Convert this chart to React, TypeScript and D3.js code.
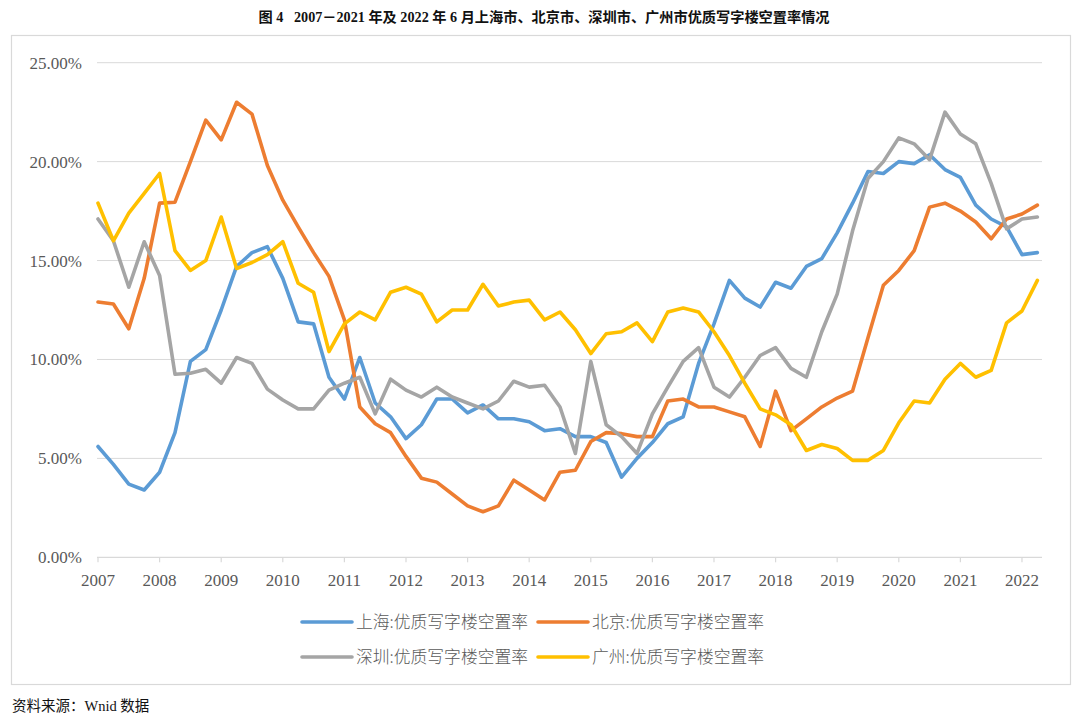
import { useEffect, useRef } from "react";
import * as d3 from "d3";

// quarterly, 2007Q1 .. 2022Q2 (62 points)
const years = d3.range(2007, 2023);

const shanghai = [
	5.6, 4.7, 3.7, 3.4, 4.3, 6.3, 9.9, 10.5, 12.5, 14.7, 15.4, 15.7, 14.1, 11.9, 11.8, 9.1,
	8.0, 10.1, 7.8, 7.1, 6.0, 6.7, 8.0, 8.0, 7.3, 7.7, 7.0, 7.0, 6.85, 6.4, 6.5, 6.1,
	6.1, 5.8, 4.05, 5.0, 5.8, 6.75, 7.1, 9.8, 11.8, 14.0, 13.1, 12.65, 13.9, 13.6, 14.7, 15.1,
	16.4, 17.9, 19.5, 19.4, 20.0, 19.9, 20.35, 19.6, 19.2, 17.8, 17.1, 16.7, 15.3, 15.4,
];

const beijing = [
	12.9, 12.8, 11.55, 14.1, 17.9, 17.95, 20.0, 22.1, 21.1, 23.0, 22.4, 19.8, 18.05, 16.7, 15.4, 14.2,
	12.0, 7.6, 6.75, 6.3, 5.1, 4.0, 3.8, 3.2, 2.6, 2.3, 2.6, 3.9, 3.4, 2.9, 4.3, 4.4,
	5.85, 6.3, 6.25, 6.1, 6.1, 7.9, 8.0, 7.6, 7.6, 7.35, 7.1, 5.6, 8.4, 6.4, 7.0, 7.6,
	8.05, 8.4, 11.1, 13.75, 14.5, 15.5, 17.7, 17.9, 17.5, 16.95, 16.1, 17.1, 17.35, 17.8,
];

const shenzhen = [
	17.1, 16.0, 13.65, 15.95, 14.25, 9.25, 9.3, 9.5, 8.8, 10.1, 9.8, 8.5, 7.95, 7.5, 7.5, 8.45,
	8.8, 9.1, 7.25, 9.0, 8.45, 8.1, 8.6, 8.1, 7.8, 7.5, 7.9, 8.9, 8.6, 8.7, 7.6, 5.25,
	9.9, 6.7, 6.1, 5.25, 7.25, 8.6, 9.9, 10.6, 8.6, 8.1, 9.1, 10.2, 10.6, 9.55, 9.1, 11.4,
	13.3, 16.5, 19.15, 20.0, 21.2, 20.9, 20.1, 22.5, 21.4, 20.9, 18.9, 16.6, 17.1, 17.2,
];

const guangzhou = [
	17.9, 16.0, 17.4, 18.4, 19.4, 15.5, 14.5, 15.0, 17.2, 14.6, 14.9, 15.3, 15.95, 13.85, 13.4, 10.4,
	11.8, 12.4, 12.0, 13.4, 13.65, 13.3, 11.9, 12.5, 12.5, 13.8, 12.7, 12.9, 13.0, 12.0, 12.4, 11.5,
	10.3, 11.3, 11.4, 11.85, 10.9, 12.4, 12.6, 12.4, 11.4, 10.2, 8.8, 7.5, 7.2, 6.7, 5.4, 5.7,
	5.5, 4.9, 4.9, 5.4, 6.8, 7.9, 7.8, 9.0, 9.8, 9.1, 9.45, 11.85, 12.45, 14.0,
];

const series = [
	{ name: "上海:优质写字楼空置率", color: "#5B9BD5", values: shanghai },
	{ name: "北京:优质写字楼空置率", color: "#ED7D31", values: beijing },
	{ name: "深圳:优质写字楼空置率", color: "#A5A5A5", values: shenzhen },
	{ name: "广州:优质写字楼空置率", color: "#FFC000", values: guangzhou },
];

const yTicks = [0, 5, 10, 15, 20, 25];

const SERIF = "'Liberation Serif', 'Times New Roman', 'Noto Sans CJK SC', serif";
const SANS = "'Noto Sans CJK SC', 'DejaVu Sans', sans-serif";

export default function App() {
	const ref = useRef<SVGSVGElement>(null);

	useEffect(() => {
		const svg = d3.select(ref.current);
		svg.selectAll("*").remove();

		const x = d3.scaleLinear().domain([0, 61.3]).range([98, 1042]);
		const y = d3.scaleLinear().domain([0, 25]).range([557.3, 62.7]);

		// Title
		svg.append("text")
			.attr("x", 544)
			.attr("y", 22)
			.attr("text-anchor", "middle")
			.attr("font-family", SERIF)
			.attr("font-size", "14.2px")
			.attr("font-weight", "bold")
			.attr("fill", "#111")
			.text("图 4\u00a0\u00a0\u00a02007－2021 年及 2022 年 6 月上海市、北京市、深圳市、广州市优质写字楼空置率情况");

		// Chart frame
		svg.append("rect")
			.attr("x", 11.5)
			.attr("y", 35.5)
			.attr("width", 1059)
			.attr("height", 649)
			.attr("fill", "none")
			.attr("stroke", "#d9d9d9")
			.attr("stroke-width", 1.2);

		// Gridlines + y labels
		const grid = svg.append("g");
		yTicks.forEach(t => {
			if (t > 0) {
				grid.append("line")
					.attr("x1", x(0) - 1)
					.attr("x2", x.range()[1])
					.attr("y1", y(t))
					.attr("y2", y(t))
					.attr("stroke", "#d9d9d9")
					.attr("stroke-width", 1);
			}
			grid.append("text")
				.attr("x", 82)
				.attr("y", y(t) + 6)
				.attr("text-anchor", "end")
				.attr("font-family", SERIF)
				.attr("font-size", "17px")
				.attr("fill", "#595959")
				.text(t.toFixed(2) + "%");
		});

		// X axis
		const axis = svg.append("g");
		axis.append("line")
			.attr("x1", x(0) - 1)
			.attr("x2", x.range()[1])
			.attr("y1", y(0))
			.attr("y2", y(0))
			.attr("stroke", "#d9d9d9")
			.attr("stroke-width", 1.2);

		years.forEach((yr, i) => {
			const xp = x(i * 4);
			axis.append("line")
				.attr("x1", xp)
				.attr("x2", xp)
				.attr("y1", y(0))
				.attr("y2", y(0) + 5)
				.attr("stroke", "#d9d9d9")
				.attr("stroke-width", 1.2);
			axis.append("text")
				.attr("x", xp)
				.attr("y", 586)
				.attr("text-anchor", "middle")
				.attr("font-family", SERIF)
				.attr("font-size", "17px")
				.attr("fill", "#595959")
				.text(yr);
		});

		// Lines
		const line = d3.line<number>()
			.x((_, i) => x(i))
			.y(d => y(d));

		series.forEach(s => {
			svg.append("path")
				.datum(s.values)
				.attr("d", line)
				.attr("fill", "none")
				.attr("stroke", s.color)
				.attr("stroke-width", 3.6)
				.attr("stroke-linejoin", "round")
				.attr("stroke-linecap", "round");
		});

		// Legend (2 x 2)
		const legend = svg.append("g");
		series.forEach((s, i) => {
			const lx = i % 2 === 0 ? 302 : 538;
			const ly = i < 2 ? 622 : 657;
			legend.append("line")
				.attr("x1", lx)
				.attr("x2", lx + 50)
				.attr("y1", ly)
				.attr("y2", ly)
				.attr("stroke", s.color)
				.attr("stroke-width", 3.6)
				.attr("stroke-linecap", "round");
			legend.append("text")
				.attr("x", lx + 54)
				.attr("y", ly + 6)
				.attr("font-family", SANS)
				.attr("font-size", "16.8px")
				.attr("font-weight", 300)
				.attr("fill", "#595959")
				.text(s.name);
		});

		// Source note
		svg.append("text")
			.attr("x", 12)
			.attr("y", 711)
			.attr("font-family", SERIF)
			.attr("font-size", "14.5px")
			.attr("fill", "#111")
			.text("资料来源：Wnid 数据");
	}, []);

	return (
		<svg
			ref={ref}
			width={1080}
			height={724}
			style={{ position: "absolute", left: 0, top: 0, background: "#fff" }}
		/>
	);
}
